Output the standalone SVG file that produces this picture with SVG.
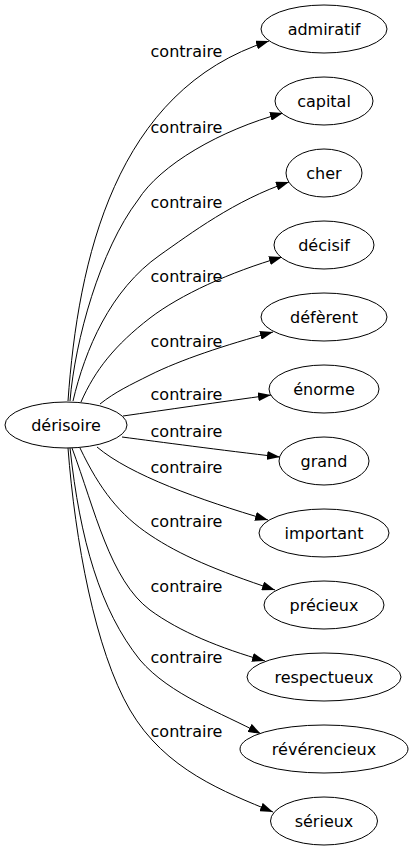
<svg xmlns="http://www.w3.org/2000/svg" width="412" height="851" viewBox="0 0 412 851">
<style>
text{font-family:"DejaVu Sans","Liberation Sans",sans-serif;font-size:16px;fill:#000;text-anchor:middle}
ellipse{fill:#fff;stroke:#000;stroke-width:1}
.e{fill:none;stroke:#000;stroke-width:1;marker-end:url(#ah)}
</style>
<defs>
<marker id="ah" viewBox="0 0 13 9" refX="13" refY="4.5" markerWidth="13" markerHeight="9" markerUnits="userSpaceOnUse" orient="auto">
<path d="M0,0 L13,4.5 L0,9 z" fill="#000"/>
</marker>
</defs>
<rect width="412" height="851" fill="#fff"/>
<g id="edges">
<path class="e" d="M68,401 C78,260 115,90 269,41"/>
<path class="e" d="M70,401 C75,340 100,250 138,200 C160,165 220,130 283,113"/>
<path class="e" d="M73,401 C85,350 110,290 160,255 C190,234 235,200 289,182"/>
<path class="e" d="M81,402 C95,370 115,345 150,318 C180,295 230,272 282,257"/>
<path class="e" d="M100,404 C115,392 130,385 150,375 C180,360 225,345 273,332"/>
<path class="e" d="M123,416 C165,410 220,402 271,395"/>
<path class="e" d="M122,437 C160,442 220,450 280,457"/>
<path class="e" d="M97,447 C130,475 200,500 268,520"/>
<path class="e" d="M80,448 C100,490 120,515 150,535 C180,555 215,570 275,590"/>
<path class="e" d="M72,448 C95,510 110,580 150,610 C180,632 220,648 265,661"/>
<path class="e" d="M70,448 C80,540 100,610 140,660 C170,695 222,713 261,734"/>
<path class="e" d="M68,448 C75,540 95,650 130,710 C165,770 225,792 273,812"/>
</g>
<g id="labels">
<text x="186.5" y="57">contraire</text>
<text x="186.5" y="133">contraire</text>
<text x="186.5" y="208">contraire</text>
<text x="186.5" y="282">contraire</text>
<text x="186.5" y="347">contraire</text>
<text x="186.5" y="400">contraire</text>
<text x="186.5" y="437">contraire</text>
<text x="186.5" y="473">contraire</text>
<text x="186.5" y="527">contraire</text>
<text x="186.5" y="592">contraire</text>
<text x="186.5" y="663">contraire</text>
<text x="186.5" y="737">contraire</text>
</g>
<g id="n-derisoire"><ellipse cx="66" cy="425" rx="61" ry="23"/><text x="66" y="430.5">dérisoire</text></g>
<g id="n-admiratif"><ellipse cx="324" cy="29" rx="63" ry="24"/><text x="324" y="34.5">admiratif</text></g>
<g id="n-capital"><ellipse cx="324" cy="101" rx="49" ry="24"/><text x="324" y="106.5">capital</text></g>
<g id="n-cher"><ellipse cx="324" cy="173" rx="38" ry="24"/><text x="324" y="178.5">cher</text></g>
<g id="n-decisif"><ellipse cx="324" cy="245" rx="50" ry="24"/><text x="324" y="250.5">décisif</text></g>
<g id="n-deferent"><ellipse cx="324" cy="317" rx="63" ry="24"/><text x="324" y="322.5">défèrent</text></g>
<g id="n-enorme"><ellipse cx="324" cy="389" rx="55" ry="24"/><text x="324" y="394.5">énorme</text></g>
<g id="n-grand"><ellipse cx="324" cy="461" rx="45" ry="24"/><text x="324" y="466.5">grand</text></g>
<g id="n-important"><ellipse cx="324" cy="533" rx="65" ry="24"/><text x="324" y="538.5">important</text></g>
<g id="n-precieux"><ellipse cx="324" cy="605" rx="60" ry="24"/><text x="324" y="610.5">précieux</text></g>
<g id="n-respectueux"><ellipse cx="324" cy="677" rx="77" ry="24"/><text x="324" y="682.5">respectueux</text></g>
<g id="n-reverencieux"><ellipse cx="324" cy="749" rx="84" ry="24"/><text x="324" y="754.5">révérencieux</text></g>
<g id="n-serieux"><ellipse cx="324" cy="821" rx="53.5" ry="24"/><text x="324" y="826.5">sérieux</text></g>
</svg>
